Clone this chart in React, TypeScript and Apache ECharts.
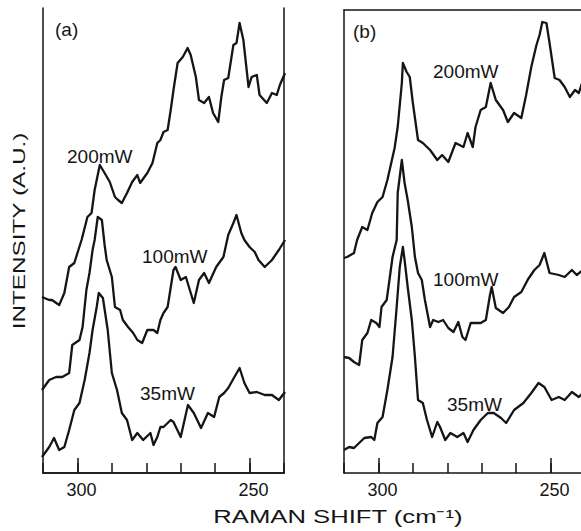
import React, { useEffect, useRef } from "react";
import * as echarts from "echarts";

const FONT = "'Liberation Sans', Arial, sans-serif";
const INK = "#151515";

// x: Raman shift (cm-1), y: intensity (a.u., offset traces)
const majorTicks = [300, 250];

const a200: number[][] = [[310.3,176],[308.2,173],[307.4,173],[305.3,168],[303.8,180],[302.4,206],[300.9,210],[300.0,220],[298.8,233],[297.1,256],[295.9,260],[295.0,283],[293.5,308],[292.1,300],[290.6,291],[289.1,276],[288.2,273],[287.1,270],[285.6,280],[284.1,291],[282.6,298],[281.8,290],[279.7,300],[278.2,310],[276.8,330],[275.9,333],[275.0,341],[273.8,343],[272.9,363],[272.1,383],[270.9,410],[269.4,416],[268.0,425],[267.1,418],[265.6,396],[264.7,373],[263.2,370],[261.8,376],[260.6,360],[259.1,351],[258.2,376],[257.4,393],[256.2,395],[254.7,428],[253.8,430],[252.9,450],[251.8,433],[250.3,386],[249.4,396],[247.9,398],[247.1,378],[245.0,370],[243.5,380],[242.1,378],[241.2,388],[239.7,400]];

const a100: number[][] = [[310.3,83],[308.2,93],[306.2,96],[304.4,96],[302.4,100],[301.5,128],[299.4,133],[298.5,146],[297.4,183],[296.5,200],[295.6,223],[295.0,233],[294.1,256],[292.9,253],[292.1,228],[291.5,213],[290.0,196],[289.1,166],[287.6,163],[286.8,153],[285.3,146],[283.8,140],[282.6,133],[281.2,130],[279.7,143],[277.9,143],[276.8,140],[275.9,153],[275.0,160],[273.8,166],[272.1,203],[271.5,206],[270.0,193],[268.5,196],[266.2,170],[264.7,193],[263.2,200],[261.8,190],[259.7,206],[257.6,216],[256.2,238],[254.7,250],[253.8,258],[252.4,240],[251.5,233],[250.0,226],[248.5,221],[247.4,213],[245.6,206],[243.5,213],[241.5,223],[239.7,233]];

const a35: number[][] = [[310.3,16],[308.2,26],[306.8,35],[305.3,23],[303.8,26],[302.4,43],[300.9,63],[299.4,70],[297.9,93],[296.5,120],[295.6,143],[294.4,166],[293.8,180],[292.6,175],[291.2,143],[290.0,100],[288.5,83],[287.1,60],[285.6,53],[284.1,33],[282.6,40],[280.9,33],[278.8,40],[277.9,28],[276.8,36],[275.9,46],[275.0,46],[272.9,53],[272.1,51],[270.0,36],[267.9,68],[266.2,60],[264.1,45],[262.1,60],[260.3,56],[258.8,76],[257.4,80],[256.2,85],[254.4,96],[252.9,105],[251.5,90],[250.0,80],[247.9,81],[245.6,78],[243.5,78],[241.5,73],[239.7,81]];

const b200: number[][] = [[310.0,215],[309.1,216],[307.1,220],[306.2,233],[304.7,246],[303.2,243],[301.8,260],[300.3,271],[298.8,276],[297.4,293],[295.3,325],[294.4,346],[293.2,390],[292.9,410],[291.8,401],[290.9,396],[290.0,370],[288.5,333],[287.1,330],[285.0,323],[282.9,313],[281.5,318],[279.7,311],[277.6,330],[275.3,326],[274.1,340],[272.6,326],[271.8,346],[270.3,363],[268.8,366],[267.4,390],[265.9,373],[263.8,363],[262.4,351],[260.6,360],[258.5,355],[257.1,378],[255.6,406],[254.1,428],[253.2,438],[252.4,451],[251.2,450],[250.3,430],[248.8,395],[247.4,393],[245.9,386],[244.4,376],[242.9,383],[241.8,380],[240.3,396]];

const b100: number[][] = [[310.0,116],[308.5,115],[307.1,111],[305.6,108],[304.7,133],[303.2,140],[302.1,153],[300.6,150],[299.7,146],[299.1,166],[297.6,173],[296.8,193],[295.9,216],[294.7,233],[294.4,280],[293.2,313],[292.4,290],[291.5,273],[290.3,246],[289.4,216],[288.5,200],[287.4,193],[286.5,173],[285.0,146],[284.1,153],[282.6,151],[281.2,153],[279.7,145],[278.2,141],[276.8,151],[275.6,136],[274.7,133],[273.2,150],[270.3,150],[268.8,153],[267.6,178],[267.1,186],[265.9,165],[263.8,160],[262.1,166],[260.6,176],[258.5,181],[256.5,194],[254.7,203],[253.2,208],[251.8,220],[250.3,200],[247.6,198],[245.9,196],[243.8,203],[242.4,198],[240.6,203]];

const b35: number[][] = [[310.0,23],[308.5,26],[307.1,25],[305.6,30],[304.1,35],[302.1,36],[301.2,33],[300.3,50],[298.8,56],[297.4,83],[295.9,116],[294.7,166],[293.8,206],[292.9,226],[292.4,213],[291.5,186],[290.3,153],[289.4,116],[288.5,73],[287.1,70],[285.9,53],[284.4,36],[282.9,51],[282.1,46],[280.6,33],[279.1,40],[277.1,36],[275.3,40],[274.1,31],[272.4,43],[270.3,53],[268.2,60],[266.5,60],[264.4,55],[262.9,50],[260.6,63],[257.9,70],[255.6,80],[253.5,90],[251.8,86],[249.7,73],[247.6,76],[245.9,73],[243.8,81],[241.8,76],[240.6,80]];

const seriesNames = ["200mW", "100mW", "35mW"];

export default function App() {
  const ref = useRef<HTMLDivElement>(null);

  useEffect(() => {
    const chart = echarts.init(ref.current!, null, { renderer: "svg" });

    const frame = { show: true, lineStyle: { color: INK, width: 1.5 } };

    const xAxis = (gridIndex: number) => ({
      type: "value",
      gridIndex,
      inverse: true,
      min: 240,
      max: 310,
      interval: 10,
      axisLine: frame,
      axisTick: { show: true, inside: true, length: 10, lineStyle: { color: INK, width: 1.5 } },
      axisLabel: {
        formatter: (v: number) => (majorTicks.includes(v) ? String(v) : ""),
        fontSize: 18,
        color: INK,
        fontFamily: FONT,
        margin: 8,
        padding: [0, 0, 0, 8],
      },
      splitLine: { show: false },
    });

    // top edge of each frame
    const xTop = (gridIndex: number) => ({
      type: "value",
      gridIndex,
      position: "top",
      inverse: true,
      min: 240,
      max: 310,
      axisLine: frame,
      axisTick: { show: false },
      axisLabel: { show: false },
      splitLine: { show: false },
    });

    const yAxis = (gridIndex: number, max: number) => ({
      type: "value",
      gridIndex,
      min: 0,
      max,
      axisLine: frame,
      axisTick: { show: false },
      axisLabel: { show: false },
      splitLine: { show: false },
    });

    // right edge (panel a only; panel b is cut by the page edge)
    const yRight = (gridIndex: number, max: number) => ({
      type: "value",
      gridIndex,
      position: "right",
      min: 0,
      max,
      axisLine: frame,
      axisTick: { show: false },
      axisLabel: { show: false },
      splitLine: { show: false },
    });

    const line = (name: string, data: number[][], idx: number, withTicks: boolean) => ({
      type: "line",
      name,
      data,
      xAxisIndex: idx,
      yAxisIndex: idx,
      symbol: "none",
      showSymbol: false,
      clip: true,
      silent: true,
      lineStyle: { color: INK, width: 2.3, join: "round" },
      markLine: withTicks
        ? {
            silent: true,
            symbol: ["none", "none"],
            label: { show: false },
            lineStyle: { color: INK, width: 1.5, type: "solid" },
            data: majorTicks.map((t) => [{ coord: [t, 0] }, { coord: [t, 15] }]),
          }
        : undefined,
    });

    const txt = (text: string, x: number, y: number, size: number) => ({
      type: "text",
      x,
      y,
      style: {
        text,
        fontSize: size,
        fontFamily: FONT,
        fill: INK,
        align: "left",
        verticalAlign: "middle",
      },
    });

    chart.setOption({
      animation: false,
      backgroundColor: "#ffffff",
      grid: [
        { left: 43, top: 8, width: 241, height: 465, show: false, containLabel: false, outerBoundsMode: "none" },
        { left: 344, top: 10, width: 241, height: 463, show: false, containLabel: false, outerBoundsMode: "none" },
      ],
      xAxis: [xAxis(0), xAxis(1), xTop(0), xTop(1)],
      yAxis: [yAxis(0, 465), yAxis(1, 463), yRight(0, 465)],
      series: [
        line(seriesNames[0], a200, 0, false),
        line(seriesNames[1], a100, 0, false),
        line(seriesNames[2], a35, 0, true),
        line(seriesNames[0], b200, 1, false),
        line(seriesNames[1], b100, 1, false),
        line(seriesNames[2], b35, 1, true),
      ],
      graphic: [
        txt("(a)", 55, 29, 19),
        txt("(b)", 353, 31, 19),
        txt(seriesNames[0], 67, 156, 19),
        txt(seriesNames[1], 142, 256, 19),
        txt(seriesNames[2], 140, 393, 19),
        txt(seriesNames[0], 433, 71, 19),
        txt(seriesNames[1], 433, 279, 19),
        txt(seriesNames[2], 447, 404, 19),
        {
          type: "text",
          x: 19,
          y: 231,
          rotation: Math.PI / 2,
          scaleX: 1.43,
          style: { text: "INTENSITY (A.U.)", fontSize: 17, fontFamily: FONT, fill: INK, align: "center", verticalAlign: "middle" },
        },
        {
          type: "text",
          x: 338,
          y: 517,
          scaleX: 1.35,
          style: { text: "RAMAN SHIFT (cm⁻¹)", fontSize: 19, fontFamily: FONT, fill: INK, align: "center", verticalAlign: "middle" },
        },
      ],
    });

    return () => chart.dispose();
  }, []);

  return (
    <div
      ref={ref}
      style={{ position: "fixed", left: 0, top: 0, width: 581, height: 531, background: "#fff" }}
    />
  );
}
